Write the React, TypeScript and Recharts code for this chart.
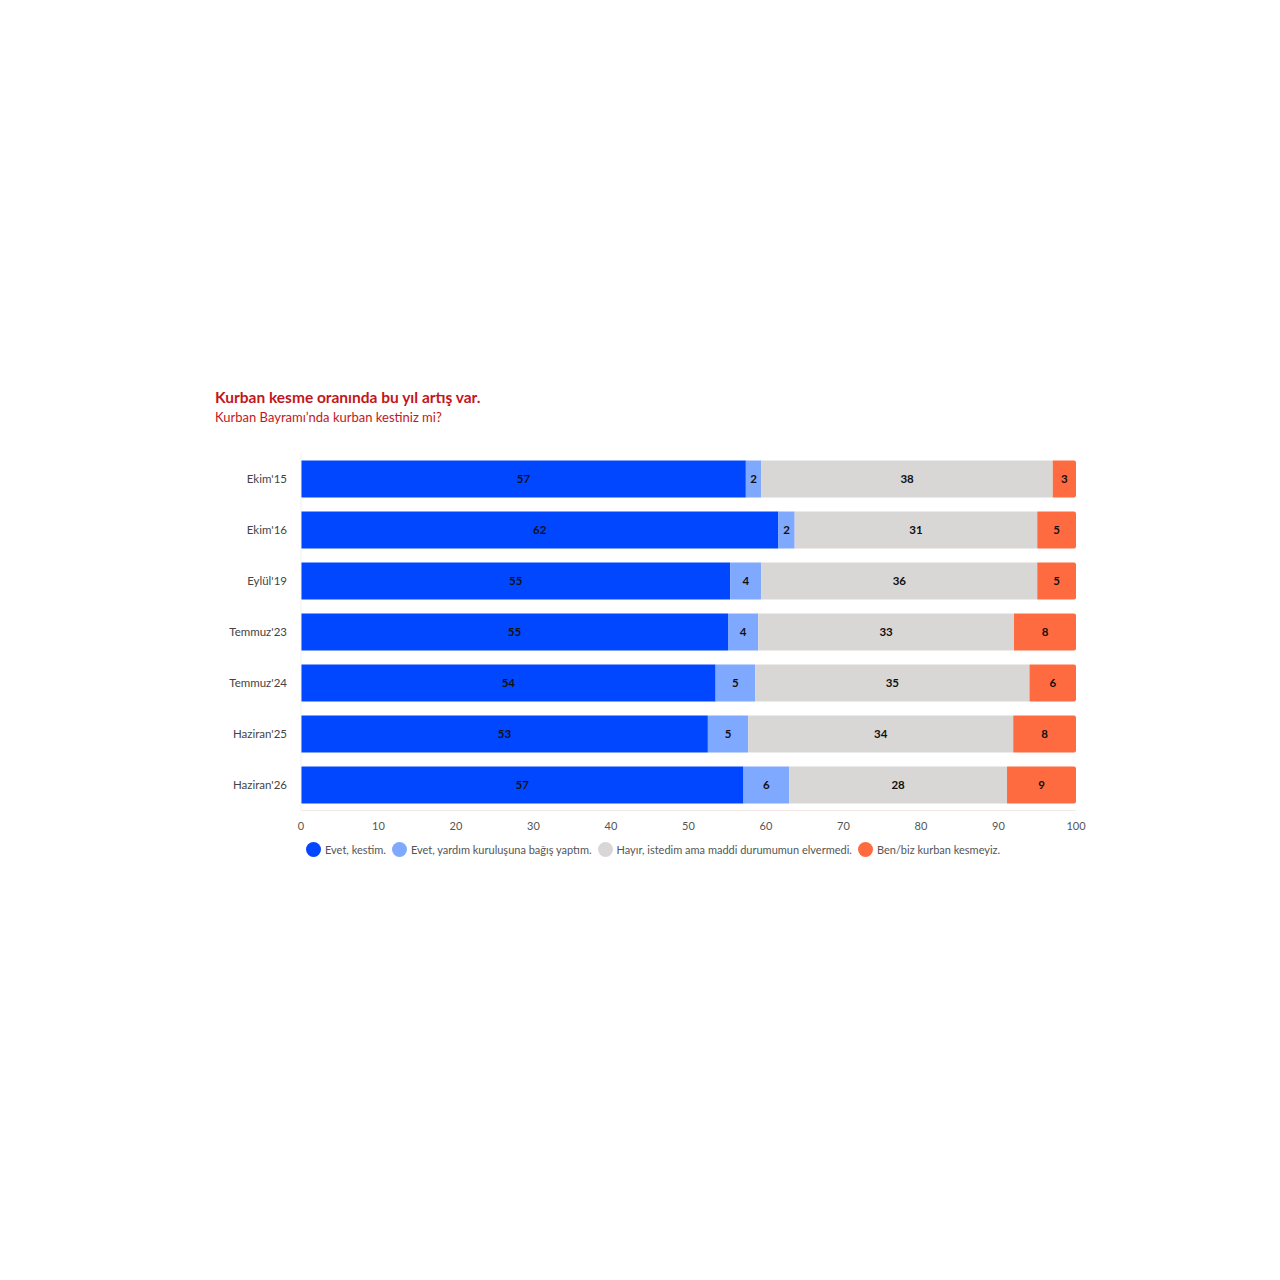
import { BarChart, Bar, XAxis, YAxis, LabelList } from "recharts";

// Survey waves and shares (%)
const waves = ["Ekim'15", "Ekim'16", "Eylül'19", "Temmuz'23", "Temmuz'24", "Haziran'25", "Haziran'26"];
const kestim = [57.4, 61.6, 55.4, 55.1, 53.5, 52.5, 57.1];
const bagis = [2.0, 2.1, 4.0, 3.9, 5.1, 5.2, 5.9];
const maddi = [37.6, 31.3, 35.6, 33.0, 35.4, 34.2, 28.1];
const kesmeyiz = [3.0, 5.0, 5.0, 8.0, 6.0, 8.1, 8.9];
const xTicks = [0, 10, 20, 30, 40, 50, 60, 70, 80, 90, 100];

const series = [
  { key: "kestim", name: "Evet, kestim.", color: "#0047FF" },
  { key: "bagis", name: "Evet, yardım kuruluşuna bağış yaptım.", color: "#7FA9FF" },
  { key: "maddi", name: "Hayır, istedim ama maddi durumumun elvermedi.", color: "#D9D7D6" },
  { key: "kesmeyiz", name: "Ben/biz kurban kesmeyiz.", color: "#FF6B40" },
];

const data = waves.map((w, i) => ({
  wave: w,
  kestim: kestim[i],
  bagis: bagis[i],
  maddi: maddi[i],
  kesmeyiz: kesmeyiz[i],
}));

const font = "Lato, 'Open Sans', sans-serif";

export default function App() {
  return (
    <div style={{ position: "absolute", left: 0, top: 0, width: 1280, height: 1280, background: "#fff", fontFamily: font }}>
      <div style={{ position: "absolute", left: 215, top: 388, color: "#C3161C", fontWeight: 700, fontSize: 15.5 }}>
        Kurban kesme oranında bu yıl artış var.
      </div>
      <div style={{ position: "absolute", left: 215, top: 409, color: "#C3161C", fontSize: 13 }}>
        Kurban Bayramı’nda kurban kestiniz mi?
      </div>

      <div style={{ position: "absolute", left: 200, top: 441 }}>
        <BarChart
          width={900}
          height={400}
          data={data}
          layout="vertical"
          barSize={37}
          barCategoryGap={14}
          margin={{ top: 12.5, right: 24, bottom: 0, left: 0 }}
        >
          <XAxis
            type="number"
            domain={[0, 100]}
            ticks={xTicks}
            interval={0}
            tickLine={false}
            tickMargin={6}
            height={30.5}
            axisLine={{ stroke: "#F3E9E9" }}
            tick={{ fontSize: 11, fill: "#555", fontFamily: font }}
          />
          <YAxis
            type="category"
            dataKey="wave"
            width={101}
            tickLine={false}
            tickSize={0}
            tickMargin={14}
            axisLine={{ stroke: "#EEF0F3" }}
            tick={{ fontSize: 11.5, fill: "#444", fontFamily: font }}
          />
          {series.map((s, i) => (
            <Bar
              key={s.key}
              dataKey={s.key}
              name={s.name}
              stackId="a"
              fill={s.color}
              isAnimationActive={false}
              radius={i === series.length - 1 ? [0, 2, 2, 0] : 0}
            >
              <LabelList
                dataKey={s.key}
                position="center"
                formatter={(v: number) => Math.round(v)}
                style={{ fontSize: 11.5, fontWeight: 700, fill: "#111", fontFamily: font }}
              />
            </Bar>
          ))}
        </BarChart>
      </div>

      <div
        style={{
          position: "absolute",
          left: 306,
          top: 842,
          display: "flex",
          alignItems: "center",
          gap: 6,
          fontSize: 11,
          color: "#555",
          whiteSpace: "nowrap",
        }}
      >
        {series.map((s) => (
          <div key={s.key} style={{ display: "flex", alignItems: "center", gap: 4 }}>
            <span style={{ width: 15, height: 15, borderRadius: "50%", background: s.color, display: "inline-block" }} />
            <span>{s.name}</span>
          </div>
        ))}
      </div>
    </div>
  );
}
